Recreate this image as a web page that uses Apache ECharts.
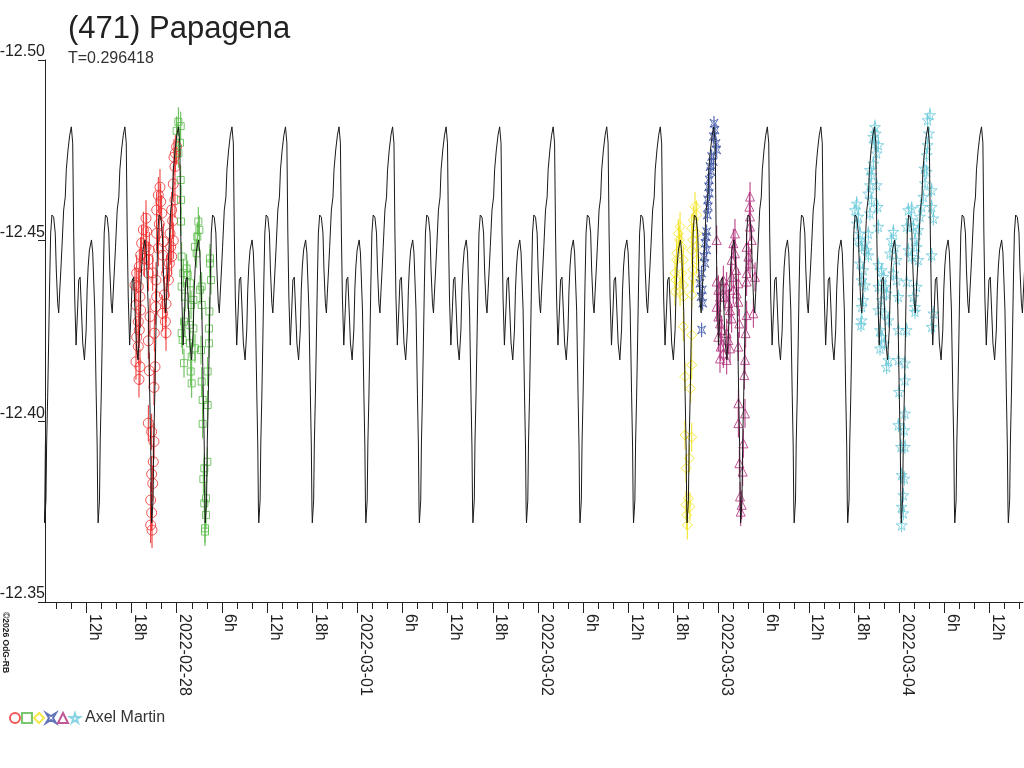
<!DOCTYPE html>
<html>
<head>
<meta charset="utf-8">
<title>(471) Papagena</title>
<script src="https://cdn.jsdelivr.net/npm/echarts@6/dist/echarts.min.js"></script>
<style>
  html, body { margin: 0; padding: 0; background: #fff; }
  #chart { width: 1024px; height: 768px; }
</style>
</head>
<body>
<div id="chart"></div>
<script>
// x values are hours from 2022-02-28 00:00 UT, y values are magnitudes
const PERIOD_D = 0.296418;
const PERIOD_H = PERIOD_D * 24;
const EPOCH_H = 7.39;          // one maximum of the model curve
const X_MIN = -17.5, X_MAX = 112.45;

const dayNames = ['2022-02-28', '2022-03-01', '2022-03-02', '2022-03-03', '2022-03-04'];
const labelHours = [-12, -6, 0, 6, 12, 18, 24, 30, 36, 42, 48, 54, 60, 66, 72, 78, 84, 90, 96, 102, 108];
const tickHours = [-16, -14, -12, -10, -8, -6, -4, -2, 0, 2, 4, 6, 8, 10, 12, 14, 16, 18, 20, 22, 24,
  26, 28, 30, 32, 34, 36, 38, 40, 42, 44, 46, 48, 50, 52, 54, 56, 58, 60, 62, 64, 66, 68, 70, 72,
  74, 76, 78, 80, 82, 84, 86, 88, 90, 92, 94, 96, 98, 100, 102, 104, 106, 108, 110, 112];

// one cycle of the fitted lightcurve
const modelPhase = [0, .019, .037, .056, .082, .094, .112, .131, .157, .182, .206, .238, .270, .288,
  .307, .331, .369, .393, .431, .457, .476, .487, .494, .519, .532, .551, .569, .588, .607, .631,
  .663, .693, .712, .738, .757, .775, .800, .818, .850, .880, .899, .931, .963, .993];
const modelMag = [-12.4817, -12.4770, -12.4521, -12.4344, -12.4211, -12.4206, -12.4316, -12.4391,
  -12.4399, -12.4308, -12.4217, -12.4170, -12.4253, -12.4363, -12.4427, -12.4474, -12.4502, -12.4466,
  -12.4308, -12.4078, -12.3929, -12.3763, -12.3719, -12.3782, -12.3940, -12.4067, -12.4217, -12.4383,
  -12.4521, -12.4571, -12.4565, -12.4521, -12.4419, -12.4327, -12.4300, -12.4355, -12.4427, -12.4482,
  -12.4585, -12.4621, -12.4696, -12.4751, -12.4792, -12.4815];

// observations, one array per session
const obsCircle = [
  [-4.08,-12.4562],[-4.43,-12.4530],[-3.99,-12.4525],[-4.66,-12.4493],[-4.08,-12.4483],[-3.64,-12.4474],
  [-4.79,-12.4460],[-4.30,-12.4451],[-3.77,-12.4447],[-4.97,-12.4428],
  [-5.32,-12.4410],[-5.54,-12.4377],[-5.10,-12.4373],[-4.88,-12.4345],[-5.41,-12.4322],[-4.79,-12.4308],
  [-5.10,-12.4276],[-4.97,-12.4253],[-5.32,-12.4233],[-5.10,-12.4207],[-5.41,-12.4165],[-4.88,-12.4151],
  [-5.01,-12.4116],
  [-3.77,-12.4410],[-3.19,-12.4411],[-2.75,-12.4391],[-2.66,-12.4345],[-2.80,-12.4317],[-3.55,-12.4290],
  [-2.97,-12.4244],[-3.77,-12.4223],[-2.88,-12.4151],[-3.64,-12.4140],[-3.02,-12.4094],[-3.77,-12.3995],
  [-3.33,-12.3971],[-3.02,-12.3944],[-3.11,-12.3888],[-3.33,-12.3854],[-3.19,-12.3828],[-3.46,-12.3782],
  [-3.33,-12.3747],[-3.46,-12.3713],[-3.28,-12.3699],
  [-2.22,-12.4648],[-2.44,-12.4626],[-2.13,-12.4608],[-2.66,-12.4585],[-2.00,-12.4576],[-2.31,-12.4546],
  [-2.66,-12.4520],[-1.78,-12.4497],[-2.44,-12.4479],[-1.87,-12.4460],
  [-1.33,-12.4410],[-1.11,-12.4391],[-1.64,-12.4350],[-1.42,-12.4325],[-1.87,-12.4299],[-1.51,-12.4276],
  [-1.42,-12.4245],[-0.98,-12.4437],[-0.67,-12.4456],[-0.80,-12.4483],[-0.45,-12.4500],[-0.89,-12.4520],
  [-0.54,-12.4555],[-0.67,-12.4585],[-0.23,-12.4613],[-0.45,-12.4657],[-0.23,-12.4705],[-0.36,-12.4731],
  [-0.01,-12.4760],[-0.18,-12.4742]
];
const obsSquare = [
  [0.22,-12.4829],[0.53,-12.4817],[-0.01,-12.4804],[0.44,-12.4771],[0.22,-12.4742],[0.53,-12.4668],
  [0.57,-12.4613],[0.57,-12.4553],
  [2.87,-12.4553],[3.01,-12.4530],[2.74,-12.4511],[2.43,-12.4483],[2.65,-12.4465],[4.42,-12.4451],
  [4.42,-12.4437],[4.56,-12.4391],[3.32,-12.4373],[3.10,-12.4364],[0.66,-12.4456],[1.32,-12.4423],
  [0.88,-12.4410],[1.46,-12.4405],[0.66,-12.4373],[1.77,-12.4382],[1.10,-12.4345],[2.21,-12.4336],
  [1.90,-12.4322],[3.32,-12.4322],[4.34,-12.4304],[0.97,-12.4276],[1.68,-12.4267],[0.66,-12.4244],
  [2.21,-12.4257],[4.29,-12.4257],[0.79,-12.4225],[1.77,-12.4216],[2.43,-12.4202],[3.23,-12.4197],
  [4.29,-12.4216],[0.97,-12.4161],[1.99,-12.4179],[1.86,-12.4138],[1.99,-12.4105],[4.11,-12.4138],
  [3.32,-12.4110],[3.45,-12.4059],[4.11,-12.4045],[3.45,-12.3993],[4.07,-12.3888],[3.67,-12.3870],
  [3.54,-12.3840],[3.89,-12.3787],[3.67,-12.3773],[3.89,-12.3741],[3.76,-12.3704],[3.76,-12.3695]
];
const obsDiamond = [
  [66.88,-12.4539],[66.65,-12.4520],[66.79,-12.4502],[66.43,-12.4465],[67.10,-12.4483],[66.43,-12.4447],
  [67.32,-12.4447],[66.21,-12.4410],[67.10,-12.4410],[66.34,-12.4391],[67.32,-12.4377],[66.88,-12.4359],
  [66.21,-12.4359],[67.32,-12.4345],[68.43,-12.4350],[68.87,-12.4594],[69.09,-12.4571],[68.65,-12.4557],
  [68.43,-12.4534],[69.09,-12.4520],[68.56,-12.4502],[69.09,-12.4483],[68.43,-12.4474],[69.09,-12.4447],
  [68.56,-12.4419],[68.65,-12.4396],[67.32,-12.4262],[68.43,-12.4239],[68.43,-12.4156],[67.54,-12.4124],
  [68.29,-12.4091],[67.54,-12.3962],[68.43,-12.3956],[68.12,-12.3898],[67.67,-12.3870],[67.98,-12.3787],
  [67.67,-12.3769],[68.20,-12.3764],[67.76,-12.3741],[67.85,-12.3713]
];
const obsCross = [
  [71.39,-12.4825],[71.53,-12.4806],[71.30,-12.4788],[71.66,-12.4769],[71.75,-12.4751],[71.08,-12.4733],
  [71.30,-12.4719],[70.86,-12.4705],[70.99,-12.4691],[70.77,-12.4668],[70.68,-12.4649],[70.77,-12.4631],
  [70.55,-12.4613],[70.64,-12.4594],[70.51,-12.4571],[70.42,-12.4525],[70.33,-12.4511],[70.20,-12.4493],
  [70.42,-12.4474],[70.06,-12.4456],[70.20,-12.4437],[69.75,-12.4410],[69.53,-12.4382],[69.84,-12.4364],
  [69.67,-12.4345],[69.89,-12.4327],[69.75,-12.4253]
];
const obsTriangle = [
  [71.75,-12.4502],[71.75,-12.4387],[71.97,-12.4364],[72.19,-12.4345],[71.75,-12.4317],[71.97,-12.4290],
  [72.19,-12.4271],[72.41,-12.4253],[71.97,-12.4234],[72.28,-12.4207],[72.63,-12.4188],[72.19,-12.4174],
  [73.08,-12.4170],[72.63,-12.4391],[73.08,-12.4373],[72.86,-12.4345],[73.30,-12.4327],[73.52,-12.4308],
  [73.74,-12.4285],[73.08,-12.4244],[73.30,-12.4225],[73.52,-12.4202],[74.18,-12.4520],[73.96,-12.4493],
  [74.18,-12.4465],[73.74,-12.4447],[74.32,-12.4419],[73.74,-12.4400],[74.63,-12.4382],[73.96,-12.4364],
  [74.41,-12.4354],[74.63,-12.4331],[74.76,-12.4271],[74.63,-12.4207],[75.73,-12.4483],[75.96,-12.4456],
  [76.18,-12.4437],[75.73,-12.4410],[76.84,-12.4400],[75.73,-12.4387],[76.18,-12.4539],[76.40,-12.4502],
  [76.18,-12.4567],[76.09,-12.4594],[76.18,-12.4622],[76.62,-12.4299],[75.73,-12.4294],[75.60,-12.4244],
  [75.51,-12.4170],[75.42,-12.4128],[74.63,-12.4050],[75.51,-12.4022],[74.63,-12.3995],[75.29,-12.3939],
  [74.76,-12.3884],[75.20,-12.3861],[74.85,-12.3792],[75.07,-12.3769],[74.94,-12.3750]
];
const obsStar = [
  [90.35,-12.4603],[90.13,-12.4585],[90.57,-12.4567],[90.35,-12.4548],[90.79,-12.4520],[90.57,-12.4502],
  [91.01,-12.4483],[91.46,-12.4493],[91.68,-12.4474],[91.90,-12.4460],[90.79,-12.4437],[91.23,-12.4419],
  [91.01,-12.4391],[91.46,-12.4377],[91.23,-12.4336],[91.01,-12.4317],[91.01,-12.4280],[90.92,-12.4267],
  [91.90,-12.4520],[92.12,-12.4576],[92.34,-12.4613],[91.90,-12.4631],[92.12,-12.4654],[92.34,-12.4682],
  [92.12,-12.4696],[92.56,-12.4714],[93.01,-12.4742],[92.70,-12.4769],[92.87,-12.4797],[92.78,-12.4815],
  [92.56,-12.4788],[93.23,-12.4765],[93.01,-12.4654],[93.14,-12.4594],[93.23,-12.4539],
  [93.23,-12.4433],[93.67,-12.4419],[93.89,-12.4400],[93.23,-12.4373],[94.11,-12.4373],[94.33,-12.4354],
  [93.67,-12.4336],[93.23,-12.4308],[94.11,-12.4299],[94.56,-12.4280],[93.45,-12.4253],[93.67,-12.4234],
  [94.02,-12.4216],[93.45,-12.4202],[94.56,-12.4170],[94.33,-12.4151],
  [95.22,-12.4525],[95.00,-12.4502],[95.44,-12.4483],[94.78,-12.4465],[95.66,-12.4447],[95.22,-12.4410],
  [95.66,-12.4391],[95.89,-12.4345],[95.89,-12.4253],[96.99,-12.4253],[95.89,-12.4170],[96.77,-12.4161],
  [96.77,-12.4114],[95.97,-12.4082],[96.77,-12.4022],[95.89,-12.3990],[96.68,-12.3976],[96.24,-12.3930],
  [96.77,-12.3930],[96.33,-12.3852],[96.68,-12.3842],[96.55,-12.3796],[96.33,-12.3764],[96.55,-12.3746],
  [96.33,-12.3713],
  [97.21,-12.4585],[97.66,-12.4589],[96.99,-12.4539],[97.57,-12.4557],[97.88,-12.4539],[98.10,-12.4502],
  [98.32,-12.4483],[97.21,-12.4474],[97.66,-12.4456],[98.54,-12.4447],[96.99,-12.4387],[98.32,-12.4373],
  [97.88,-12.4345],[98.10,-12.4317],[98.10,-12.4304],
  [98.54,-12.4530],[98.76,-12.4567],[98.99,-12.4594],[99.21,-12.4622],[99.43,-12.4659],[99.65,-12.4691],
  [99.34,-12.4700],[99.65,-12.4737],[99.78,-12.4765],[99.96,-12.4797],[99.78,-12.4834],[100.09,-12.4848],
  [100.31,-12.4640],[100.31,-12.4594],[100.54,-12.4562],[100.31,-12.4460],[100.54,-12.4299],[100.31,-12.4262]
];

const FONT = '"Liberation Sans", Arial, sans-serif';
const STAR5 = 'path://M50,0L61,35L98,35L68,57L79,91L50,70L21,91L32,57L2,35L39,35Z';
const STAR4 = 'path://M0,0L5,3L10,0L7,5L10,10L5,7L0,10L3,5Z';

// model curve repeated with the period
const model = [];
for (let k = -5; k <= 16; k++) {
  for (let i = 0; i < modelPhase.length; i++) {
    const t = EPOCH_H + (k + modelPhase[i]) * PERIOD_H;
    if (t >= X_MIN - 2 && t <= X_MAX + 2) model.push([t, modelMag[i]]);
  }
}

const sessions = [
  { name: 'Axel Martin 1', data: obsCircle, symbol: 'circle', size: 10, color: '#ee2f2f', err: 0.005 },
  { name: 'Axel Martin 2', data: obsSquare, symbol: 'rect', size: 7, color: '#58b947', err: 0.004 },
  { name: 'Axel Martin 3', data: obsDiamond, symbol: 'diamond', size: 10, color: '#f2e21c', err: 0.004 },
  { name: 'Axel Martin 4', data: obsCross, symbol: STAR4, size: 8, color: '#3a52a6', err: 0.002 },
  { name: 'Axel Martin 5', data: obsTriangle, symbol: 'triangle', size: 9, color: '#b2307c', err: 0.004 },
  { name: 'Axel Martin 6', data: obsStar, symbol: STAR5, size: 11, color: '#6ccbdb', err: 0.002 }
];
const lastName = sessions[sessions.length - 1].name;

function errorBars(s) {
  return {
    type: 'custom',
    silent: true,
    z: 2,
    data: s.data,
    encode: { x: 0, y: 1 },
    renderItem: function (params, api) {
      const t = api.value(0), m = api.value(1);
      const a = api.coord([t, m - s.err]);
      const b = api.coord([t, m + s.err]);
      return {
        type: 'line',
        shape: { x1: a[0], y1: a[1], x2: b[0], y2: b[1] },
        style: { stroke: s.color, lineWidth: 1 }
      };
    }
  };
}

const series = [];
sessions.forEach(function (s) {
  series.push(errorBars(s));
  series.push({
    name: s.name,
    type: 'scatter',
    data: s.data,
    symbol: s.symbol,
    symbolSize: s.size,
    symbolKeepAspect: true,
    z: 3,
    itemStyle: { color: 'rgba(0,0,0,0)', borderColor: s.color, borderWidth: 1 },
    emphasis: { disabled: true }
  });
});
series.push({
  name: 'model',
  type: 'line',
  data: model,
  showSymbol: false,
  z: 4,
  silent: true,
  lineStyle: { color: '#1a1a1a', width: 1 }
});

const chart = echarts.init(document.getElementById('chart'));
chart.setOption({
  animation: false,
  backgroundColor: '#fff',
  textStyle: { fontFamily: FONT },
  title: [
    { text: '(471) Papagena', left: 63, top: 9,
      textStyle: { fontSize: 31, fontWeight: 'normal', color: '#222', fontFamily: FONT } },
    { text: 'T=0.296418', left: 63, top: 46,
      textStyle: { fontSize: 16, fontWeight: 'normal', color: '#333', fontFamily: FONT } }
  ],
  legend: {
    data: sessions.map(function (s) { return s.name; }),
    left: 4, top: 705,
    itemWidth: 10, itemHeight: 10, itemGap: 0,
    selectedMode: false,
    formatter: function (name) { return name === lastName ? 'Axel Martin' : ''; },
    textStyle: { fontSize: 16, color: '#333', fontFamily: FONT }
  },
  grid: { left: 45, right: 1, top: 60, bottom: 166, containLabel: false, outerBoundsMode: 'none' },
  xAxis: [
    {
      type: 'value', min: X_MIN, max: X_MAX,
      axisLine: { show: true, onZero: false, lineStyle: { color: '#222', width: 1 } },
      axisTick: { show: true, customValues: tickHours, length: 7, lineStyle: { color: '#222' } },
      axisLabel: {
        customValues: labelHours, rotate: -90, margin: 12, verticalAlign: 'bottom',
        fontSize: 16, color: '#222', fontFamily: FONT,
        formatter: function (v) {
          const h = ((v % 24) + 24) % 24;
          return h === 0 ? dayNames[Math.round(v / 24)] : h + 'h';
        }
      },
      splitLine: { show: false }
    },
    {
      type: 'value', min: X_MIN, max: X_MAX, position: 'bottom',
      axisLine: { show: false, onZero: false },
      axisTick: { show: true, customValues: labelHours, length: 11, lineStyle: { color: '#222' } },
      axisLabel: { show: false },
      splitLine: { show: false }
    }
  ],
  yAxis: {
    type: 'value', inverse: true, min: -12.50, max: -12.35, interval: 0.05,
    axisLine: { show: true, onZero: false, lineStyle: { color: '#222', width: 1 } },
    axisTick: { show: true, length: 7, lineStyle: { color: '#222' } },
    axisLabel: {
      margin: 0, verticalAlign: 'bottom', fontSize: 16, color: '#222', fontFamily: FONT,
      formatter: function (v) { return v.toFixed(2); }
    },
    splitLine: { show: false }
  },
  graphic: [
    { type: 'text', x: 1, y: 612, rotation: -Math.PI / 2,
      style: { text: '\u00a92026 OdG-RB', fontSize: 8.5, fontWeight: 'bold', fontFamily: FONT, fill: '#222',
               align: 'left', verticalAlign: 'bottom', textAlign: 'left', textVerticalAlign: 'bottom' } }
  ],
  series: series
});
</script>
</body>
</html>
